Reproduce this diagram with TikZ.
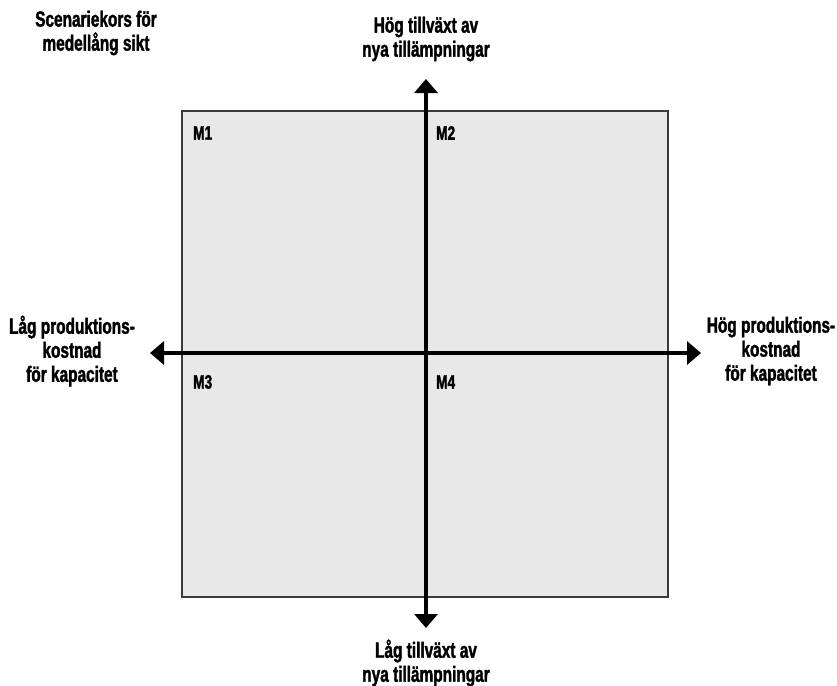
\documentclass[tikz,border=0pt]{standalone}
\usepackage{fontspec}
\setmainfont{Liberation Sans}[FakeStretch=0.70, BoldFeatures={FakeBold=1.6}]
\usetikzlibrary{arrows.meta}
\definecolor{boxfill}{HTML}{E8E8E8}
\definecolor{boxline}{HTML}{3A3A3A}
\tikzset{
  lbl/.style={font=\fontsize{22}{24}\selectfont\bfseries, align=center, inner sep=0pt},
  qlbl/.style={font=\fontsize{19.5}{20}\selectfont\bfseries, anchor=west, inner sep=0pt},
  axis/.style={line width=4pt, -{Triangle[length=14pt,width=23pt]}},
}
\begin{document}
\begin{tikzpicture}[x=1pt,y=-1pt]
\useasboundingbox (0,0) rectangle (837,685);
\draw[fill=boxfill, draw=boxline, line width=1.2pt] (182,111) rectangle (668,597);
\coordinate (c) at (426,353);
\coordinate (top) at (426,79);
\coordinate (bot) at (426,628);
\coordinate (lft) at (150,353);
\coordinate (rgt) at (701,353);
\draw[axis] (c) -- (top);
\draw[axis] (c) -- (bot);
\draw[axis] (c) -- (lft);
\draw[axis] (c) -- (rgt);
\node[lbl] (title) at (96,33) {Scenariekors för\\medellång sikt};
\node[lbl] (toplbl) at (426,39) {Hög tillväxt av\\nya tillämpningar};
\node[lbl] (botlbl) at (426,663) {Låg tillväxt av\\nya tillämpningar};
\node[lbl] (lftlbl) at (72,351) {Låg produktions-\\kostnad\\för kapacitet};
\node[lbl] (rgtlbl) at (771,351) {Hög produktions-\\kostnad\\för kapacitet};
\node[qlbl] (m1) at (193,133) {M1};
\node[qlbl] (m2) at (436,133) {M2};
\node[qlbl] (m3) at (193,382) {M3};
\node[qlbl] (m4) at (436,382) {M4};
\end{tikzpicture}
\end{document}
